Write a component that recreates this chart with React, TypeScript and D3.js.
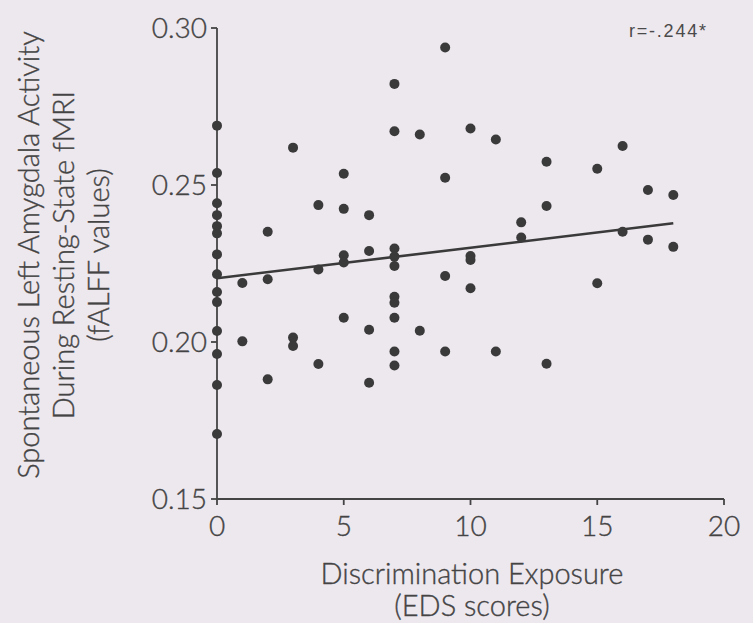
import React from "react";
import * as d3 from "d3";

const W = 753;
const H = 623;

// EDS scores (x) and fALFF values (y)
const edsScores = [
  0, 0, 0, 0, 0, 0, 0, 0, 0, 0, 0, 0, 0, 0,
  1, 1,
  2, 2, 2,
  3, 3, 3,
  4, 4, 4,
  5, 5, 5, 5, 5,
  6, 6, 6, 6,
  7, 7, 7, 7, 7, 7, 7, 7, 7, 7,
  8, 8,
  9, 9, 9, 9,
  10, 10, 10, 10,
  11, 11,
  12, 12,
  13, 13, 13,
  15, 15,
  16, 16,
  17, 17,
  18, 18,
];
const falffValues = [
  0.2689, 0.2538, 0.2442, 0.2404, 0.2369, 0.2346, 0.2279, 0.2216, 0.2159, 0.2127, 0.2035, 0.1962, 0.1863, 0.1707,
  0.2188, 0.2002,
  0.2351, 0.22, 0.1881,
  0.2619, 0.2014, 0.1987,
  0.2436, 0.2231, 0.193,
  0.2536, 0.2424, 0.2276, 0.2253, 0.2077,
  0.2404, 0.229, 0.2039, 0.187,
  0.2822, 0.2671, 0.2298, 0.2272, 0.2242, 0.2144, 0.2125, 0.2077, 0.197, 0.1925,
  0.2661, 0.2036,
  0.2938, 0.2523, 0.221, 0.197,
  0.268, 0.2274, 0.2261, 0.2171,
  0.2645, 0.197,
  0.2381, 0.2333,
  0.2574, 0.2433, 0.1931,
  0.2552, 0.2187,
  0.2624, 0.2351,
  0.2484, 0.2326,
  0.2468, 0.2303,
];

// regression line end points (x, y)
const trendX = [0, 18];
const trendY = [0.2203, 0.2378];

const xTicks = [0, 5, 10, 15, 20];
const yTicks = [0.15, 0.2, 0.25, 0.3];

const xTitle = ["Discrimination Exposure", "(EDS scores)"];
const yTitle = [
  "Spontaneous Left Amygdala Activity",
  "During Resting-State fMRI",
  "(fALFF values)",
];
const annotation = "r=-.244*";

export default function App() {
  const x = d3.scaleLinear().domain([0, 20]).range([217, 724]);
  const y = d3.scaleLinear().domain([0.15, 0.3]).range([499, 28]);
  const ink = "#444444";
  const dot = "#3a3a3a";
  const font = "Lato, 'Open Sans', sans-serif";
  const weight = 300;
  const line = d3
    .line<number>()
    .x((_, i) => x(trendX[i]))
    .y((d) => y(d));

  return (
    <svg
      width={W}
      height={H}
      style={{ position: "absolute", left: 0, top: 0, background: "#ede7ee" }}
      fontFamily={font}
    >
      <rect x={0} y={0} width={W} height={H} fill="#ede7ee" />
      {/* axes */}
      <line x1={x(0)} x2={x(0)} y1={y(0.3)} y2={y(0.15)} stroke={ink} strokeWidth={1.8} />
      <line x1={x(0)} x2={x(20)} y1={y(0.15)} y2={y(0.15)} stroke={ink} strokeWidth={1.8} />
      {yTicks.map((t) => (
        <g key={"y" + t}>
          <line x1={x(0) - 6} x2={x(0)} y1={y(t)} y2={y(t)} stroke={ink} strokeWidth={1.8} />
          <text
            x={x(0) - 10}
            y={y(t)}
            dy="0.36em"
            textAnchor="end"
            fontSize={28}
            fontWeight={weight}
            stroke={ink}
            strokeWidth={0.35}
            fill={ink}
          >
            {d3.format(".2f")(t)}
          </text>
        </g>
      ))}
      {xTicks.map((t) => (
        <g key={"x" + t}>
          <line x1={x(t)} x2={x(t)} y1={y(0.15)} y2={y(0.15) + 6} stroke={ink} strokeWidth={1.8} />
          <text
            x={x(t)}
            y={536}
            textAnchor="middle"
            fontSize={28}
            fontWeight={weight}
            stroke={ink}
            strokeWidth={0.35}
            fill={ink}
          >
            {t}
          </text>
        </g>
      ))}
      {/* trend line */}
      <path d={line(trendY) || ""} stroke={dot} strokeWidth={2.6} fill="none" />
      {/* points */}
      {edsScores.map((d, i) => (
        <circle key={i} cx={x(d)} cy={y(falffValues[i])} r={5} fill={dot} />
      ))}
      {/* annotation */}
      <text
        x={629}
        y={37}
        fontSize={18}
        fontFamily="'Liberation Sans', Arial, sans-serif"
        textLength={77}
        lengthAdjust="spacing"
        fill="#4a4a4a"
      >
        {annotation}
      </text>
      {/* x title */}
      {xTitle.map((s, i) => (
        <text
          key={s}
          x={472}
          y={584 + i * 32}
          textAnchor="middle"
          fontSize={29}
          fontWeight={weight}
          stroke={ink}
          strokeWidth={0.35}
          fill={ink}
        >
          {s}
        </text>
      ))}
      {/* y title */}
      {yTitle.map((s, i) => (
        <text
          key={s}
          transform={`translate(${39 + i * 35},255) rotate(-90)`}
          textAnchor="middle"
          fontSize={29}
          fontWeight={weight}
          stroke={ink}
          strokeWidth={0.35}
          fill={ink}
        >
          {s}
        </text>
      ))}
    </svg>
  );
}
